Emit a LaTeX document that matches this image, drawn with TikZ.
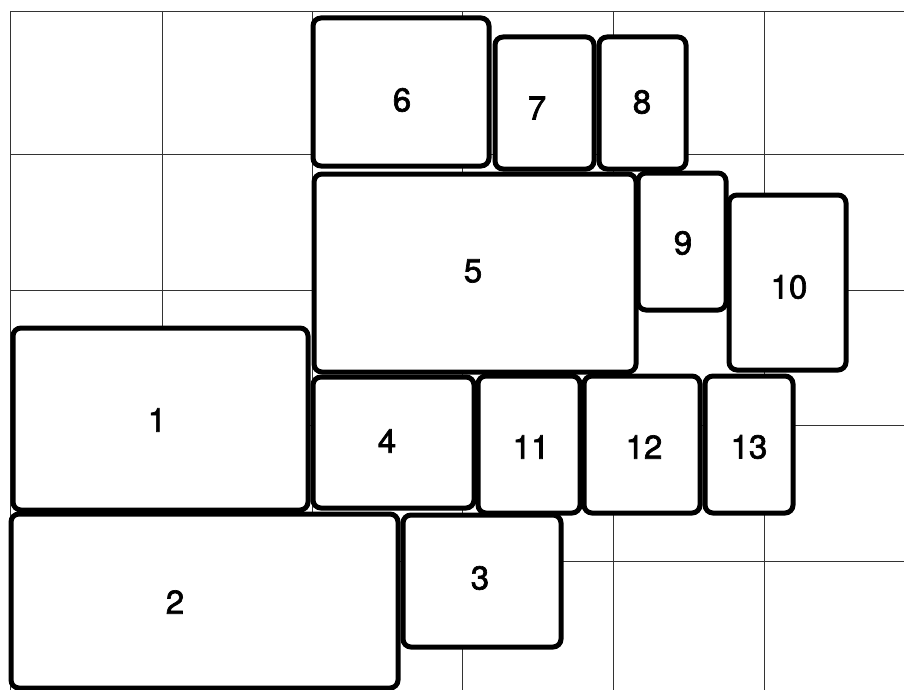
\documentclass[tikz,border=0pt]{standalone}
\usepackage{fontspec}
\setmainfont{TeX Gyre Heros}
\newfontfamily\numfont[FakeBold=2]{TeX Gyre Heros}

\begin{document}
\begin{tikzpicture}[x=1pt,y=-1pt,
  box/.style={draw,line width=5pt,rounded corners=8pt,fill=white},
  num/.style={font=\numfont\fontsize{33}{40}\selectfont}]
  \useasboundingbox (0,0) rectangle (904,690);
  % background grid
  \foreach \x in {10,162,312,462,613,764} \draw[black!80,line width=0.8pt] (\x,11) -- (\x,690);
  \foreach \y in {11,154,290,425,561} \draw[black!80,line width=0.8pt] (10,\y) -- (904,\y);
  % blocks
  \foreach \n/\xa/\ya/\xb/\yb/\lx/\ly in {1/13/328/308/510/157/420, 2/11/514/398/688/175/602,
      3/403/515/561/647/480/578, 4/313/377/474/508/387/441, 5/314/174/636/372/473/271,
      6/313/18/489/166/402/100, 7/495/37/594/169/537/108, 8/599/37/686/169/642/102,
      9/638/173/726/310/683/243, 10/729/195/846/370/789/287, 11/478/376/580/513/531/447,
      12/584/376/700/513/644/447, 13/705/376/793/513/749/447} {
    \draw[box] (\xa,\ya) rectangle (\xb,\yb);
    \node[num] (n\n) at (\lx,\ly) {\n};
  }
\end{tikzpicture}
\end{document}
